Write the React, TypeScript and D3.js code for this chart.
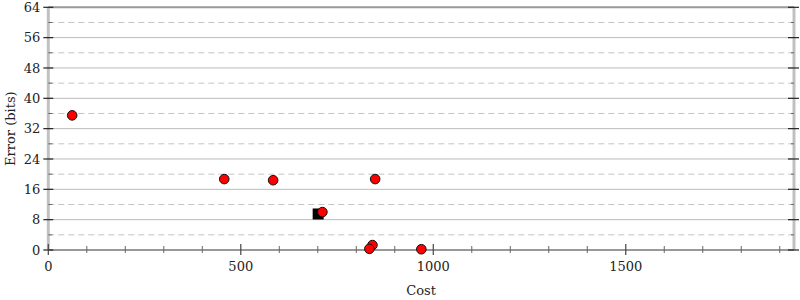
import React from "react";
import * as d3 from "d3";

const costs = [62, 457, 584, 849, 712, 842, 834, 969];
const errors = [35.5, 18.7, 18.4, 18.7, 10.0, 1.3, 0.3, 0.2];
const bestCost = [701];
const bestError = [9.5];
const yMajor = [0, 8, 16, 24, 32, 40, 48, 56, 64];
const yMinor = [4, 12, 20, 28, 36, 44, 52, 60];
const xMajor = [0, 500, 1000, 1500];
const xMinor = [100, 200, 300, 400, 600, 700, 800, 900, 1100, 1200, 1300, 1400, 1600, 1700, 1800, 1900];

const W = 800, H = 300;
const L = 48.3, R = 794, T = 7.3, B = 250;
const font = "DejaVu Serif, serif";

export default function App() {
  const x = d3.scaleLinear().domain([0, 1937]).range([L, R]);
  const y = d3.scaleLinear().domain([0, 64]).range([B, T]);
  return (
    <svg width={W} height={H} style={{ position: "absolute", left: 0, top: 0 }} fontFamily={font}>
      <rect width={W} height={H} fill="#fff" />
      {yMinor.map((v) => (
        <line key={"gm" + v} x1={L} x2={R} y1={y(v)} y2={y(v)} stroke="#c4c4c4" strokeWidth={1} strokeDasharray="6,4" />
      ))}
      {yMajor.map((v) => (
        <line key={"gM" + v} x1={L} x2={R} y1={y(v)} y2={y(v)} stroke={v === 64 ? "#999" : "#bbb"} strokeWidth={v === 64 ? 2 : 1} />
      ))}
      <line x1={L} x2={L} y1={T} y2={B} stroke="#c0c0c0" strokeWidth={3} />
      <line x1={R} x2={R} y1={T} y2={B} stroke="#c0c0c0" strokeWidth={3} />
      <line x1={L} x2={R} y1={B} y2={B} stroke="#999" strokeWidth={2} />
      {yMajor.map((v) => (
        <g key={"yt" + v}>
          <line x1={L - 5} x2={L + 5} y1={y(v)} y2={y(v)} stroke="#222" strokeWidth={1.2} />
          <line x1={R - 6} x2={R + 5} y1={y(v)} y2={y(v)} stroke="#222" strokeWidth={1.2} />
          <text x={L - 8} y={y(v)} dy="0.35em" textAnchor="end" fontSize={13} fill="#222">{v}</text>
        </g>
      ))}
      {yMinor.map((v) => (
        <g key={"ymt" + v}>
          <line x1={L} x2={L + 4} y1={y(v)} y2={y(v)} stroke="#666" strokeWidth={1} />
          <line x1={R - 3} x2={R} y1={y(v)} y2={y(v)} stroke="#666" strokeWidth={1} />
        </g>
      ))}
      {xMajor.map((v) => (
        <g key={"xt" + v}>
          <line x1={x(v)} x2={x(v)} y1={B - 6} y2={B + 5} stroke="#444" strokeWidth={1.2} />
          <text x={x(v)} y={B + 16} dy="0.35em" textAnchor="middle" fontSize={13} fill="#222">{v}</text>
        </g>
      ))}
      {xMinor.map((v) => (
        <line key={"xm" + v} x1={x(v)} x2={x(v)} y1={B - 4} y2={B + 3} stroke="#666" strokeWidth={1} />
      ))}
      {bestCost.map((c, i) => (
        <rect key={"b" + i} x={x(c) - 5.5} y={y(bestError[i]) - 5.5} width={11} height={11} fill="#000" />
      ))}
      {costs.map((c, i) => (
        <circle key={"p" + i} cx={x(c)} cy={y(errors[i])} r={4.8} fill="#f00" stroke="#111" strokeWidth={1} />
      ))}
      <text x={(L + R) / 2} y={290} dy="0.35em" textAnchor="middle" fontSize={13} fill="#222">Cost</text>
      <text transform={`translate(10,${(T + B) / 2}) rotate(-90)`} dy="0.35em" textAnchor="middle" fontSize={13} fill="#222">Error (bits)</text>
    </svg>
  );
}
